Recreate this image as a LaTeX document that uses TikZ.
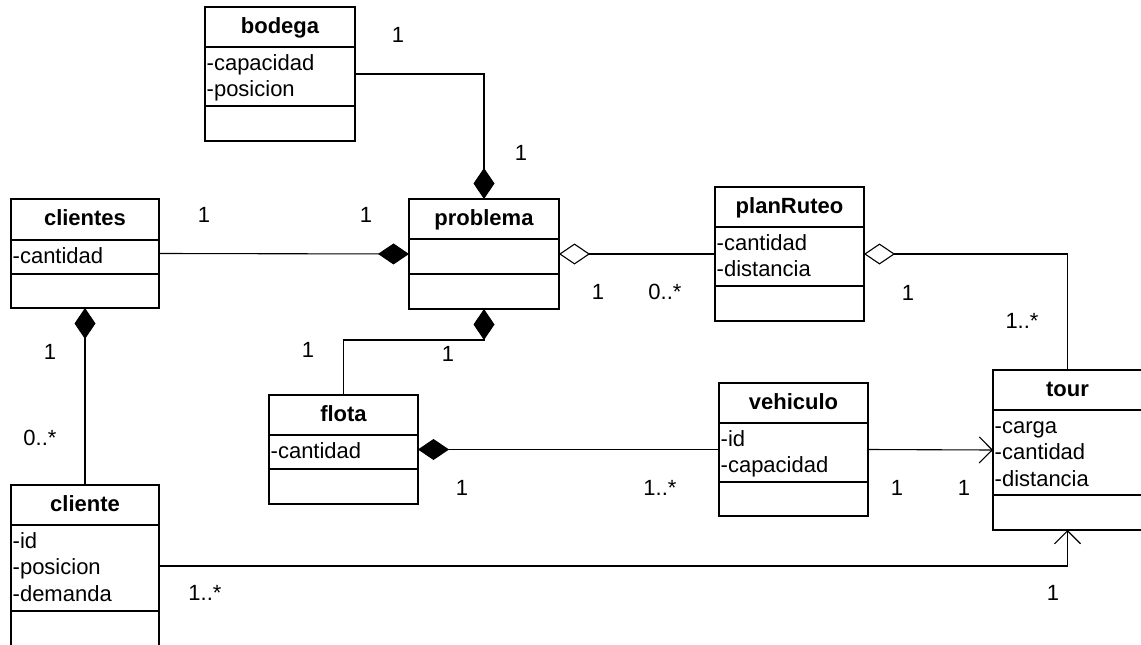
\documentclass[tikz,border=0pt]{standalone}
\usepackage{fontspec}
\setmainfont{Liberation Sans}
\usetikzlibrary{arrows.meta,calc}
\tikzset{
  classbox/.style={draw, line width=1.8pt, inner sep=0pt, outer sep=0pt},
  boxline/.style={line width=1.8pt},
  conn/.style={line width=1.1pt},
  comp/.style={conn, {Diamond[length=31pt,width=21pt]}-},
  aggr/.style={conn, {Diamond[open,length=31pt,width=21pt]}-},
  nav/.style={conn, -{Straight Barb[length=13pt,width=26pt]}},
  ctitle/.style={font=\fontsize{22}{26}\selectfont\bfseries, inner sep=0pt, anchor=base},
  attrtext/.style={font=\fontsize{22}{26}\selectfont, inner sep=0pt, anchor=base west},
  mult/.style={font=\fontsize{22}{26}\selectfont, inner sep=0pt, anchor=base},
}
% name, x, y, width, header h, attr h, ops h, title
\newcommand{\umlclass}[8]{%
  \node[classbox, minimum width=#4, minimum height=#5+#6+#7, anchor=north west] (#1) at (#2,#3) {};
  \draw[boxline] ($(#1.north west)+(0,#5)$) -- ($(#1.north east)+(0,#5)$);
  \draw[boxline] ($(#1.north west)+(0,{#5+#6})$) -- ($(#1.north east)+(0,{#5+#6})$);
  \node[ctitle] (#1-title) at ($(#1.north)+(0,26.5)$) {#8};
}
% box, header h, line number, text
\newcommand{\umlattr}[4]{%
  \node[attrtext] (#1-a#3) at ($(#1.north west)+(1.5,{#2+23+(#3-1)*26.5})$) {#4};
}
\begin{document}
\begin{tikzpicture}[x=1pt,y=-1pt]
\useasboundingbox (0,0) rectangle (1141,645);

\umlclass{bodega}{205}{7}{150}{40}{59}{35}{bodega}
\umlattr{bodega}{40}{1}{-capacidad}
\umlattr{bodega}{40}{2}{-posicion}

\umlclass{problema}{409}{199}{150}{40}{35}{35}{problema}

\umlclass{clientes}{11}{199}{148}{41}{34}{34}{clientes}
\umlattr{clientes}{41}{1}{-cantidad}

\umlclass{cliente}{11}{485}{148}{40}{86}{36}{cliente}
\umlattr{cliente}{40}{1}{-id}
\umlattr{cliente}{40}{2}{-posicion}
\umlattr{cliente}{40}{3}{-demanda}

\umlclass{planRuteo}{715}{187}{149}{40}{59}{35}{planRuteo}
\umlattr{planRuteo}{40}{1}{-cantidad}
\umlattr{planRuteo}{40}{2}{-distancia}

\umlclass{flota}{269}{395}{149}{40}{34}{35}{flota}
\umlattr{flota}{40}{1}{-cantidad}

\umlclass{vehiculo}{719}{383}{149}{40}{59}{34}{vehiculo}
\umlattr{vehiculo}{40}{1}{-id}
\umlattr{vehiculo}{40}{2}{-capacidad}

\umlclass{tour}{993}{370}{149}{40}{85}{35}{tour}
\umlattr{tour}{40}{1}{-carga}
\umlattr{tour}{40}{2}{-cantidad}
\umlattr{tour}{40}{3}{-distancia}

% connectors
\draw[comp] (problema.north) |- (bodega.east);
\draw[comp] (problema.west) -- (clientes.east);
\draw[aggr] (problema.east) -- (planRuteo.west);
\draw[aggr] (planRuteo.east) -| (tour.north);
\draw[comp] (problema.south) -- ++(0,31) -| (flota.north);
\draw[comp] (clientes.south) -- (cliente.north);
\draw[comp] (flota.east) -- (vehiculo.west);
\draw[nav] (vehiculo.east) -- (tour.west);
\draw[nav] (cliente.east) -| (tour.south);

% multiplicities
\node[mult] (m1) at (398,42.5) {1};
\node[mult] (m2) at (521,160.5) {1};
\node[mult] (m3) at (204,222.5) {1};
\node[mult] (m4) at (366,222.5) {1};
\node[mult] (m5) at (598,299.5) {1};
\node[mult] (m6) at (665,299.5) {0..*};
\node[mult] (m7) at (908,300.5) {1};
\node[mult] (m8) at (1022,328.5) {1..*};
\node[mult] (m9) at (50,359.5) {1};
\node[mult] (m10) at (40,445.5) {0..*};
\node[mult] (m11) at (308,357.5) {1};
\node[mult] (m12) at (448,361.5) {1};
\node[mult] (m13) at (462,495.5) {1};
\node[mult] (m14) at (660,495.5) {1..*};
\node[mult] (m15) at (897,495.5) {1};
\node[mult] (m16) at (964,495.5) {1};
\node[mult] (m17) at (205,600.5) {1..*};
\node[mult] (m18) at (1053,600.5) {1};
\end{tikzpicture}
\end{document}
